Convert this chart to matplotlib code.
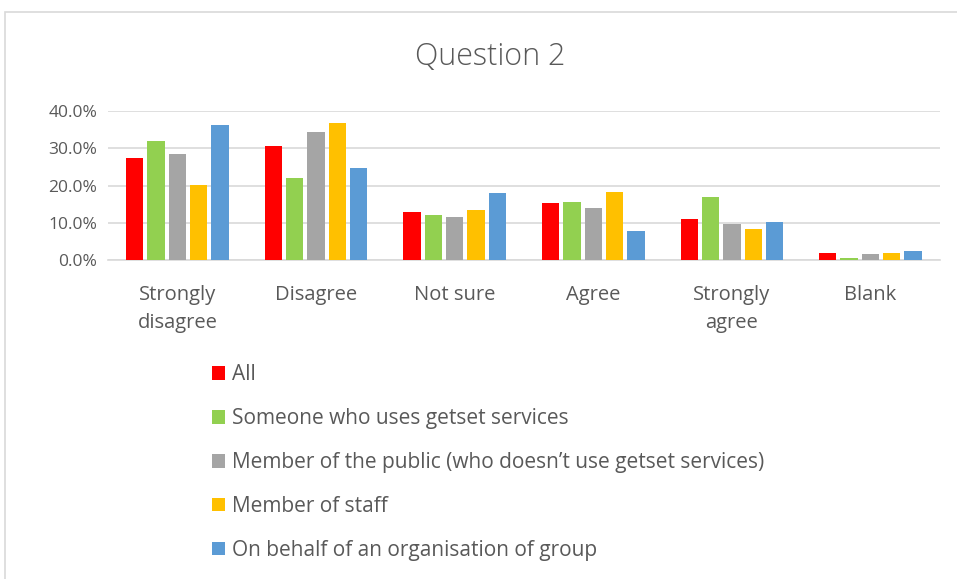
import matplotlib.pyplot as plt
import numpy as np
from matplotlib.patches import Rectangle
from matplotlib.ticker import PercentFormatter

plt.rcParams['font.family'] = ['Open Sans', 'DejaVu Sans']

categories = ['Strongly\ndisagree', 'Disagree', 'Not sure', 'Agree', 'Strongly\nagree', 'Blank']
series_names = ['All', 'Someone who uses getset services',
                'Member of the public (who doesn\u2019t use getset services)',
                'Member of staff', 'On behalf of an organisation of group']
all_resp = [27.4, 30.7, 12.8, 15.2, 11.1, 2.0]
service_users = [32.0, 22.0, 12.2, 15.7, 16.8, 0.5]
public = [28.5, 34.3, 11.5, 14.0, 9.7, 1.7]
staff = [20.2, 36.9, 13.5, 18.3, 8.4, 2.0]
organisation = [36.2, 24.6, 18.0, 7.7, 10.3, 2.4]
colors = ['#ff0000', '#92d050', '#a5a5a5', '#ffc000', '#5b9bd5']

series = [all_resp, service_users, public, staff, organisation]

fig = plt.figure(figsize=(9.57, 5.79), dpi=100)
ax = fig.add_axes([0.113, 0.551, 0.869, 0.257])

x = np.arange(len(categories))
pitch = 0.154
for i, vals in enumerate(series):
    ax.bar(x + (i - 2) * pitch, vals, width=0.125, color=colors[i],
           label=series_names[i], zorder=3)

ax.set_xlim(-0.5, 5.5)
ax.set_ylim(0, 40)
ax.set_yticks([0, 10, 20, 30, 40])
ax.yaxis.set_major_formatter(PercentFormatter(decimals=1))
ax.set_xticks(x)
ax.set_xticklabels(categories, linespacing=1.55)
ax.grid(axis='y', color='#d9d9d9', linewidth=1.2, zorder=0)
for s in ['top', 'right', 'left']:
    ax.spines[s].set_visible(False)
ax.spines['bottom'].set_color('#d9d9d9')
ax.spines['bottom'].set_linewidth(1.2)
ax.tick_params(length=0, colors='#595959')
ax.tick_params(axis='x', labelsize=14.5, pad=18)
ax.tick_params(axis='y', labelsize=12.5, pad=8)

fig.text(0.512, 0.902, 'Question 2', ha='center', va='center', fontsize=22,
         color='#595959', fontweight='light')

fig.legend(loc='upper left', bbox_to_anchor=(0.213, 0.385), frameon=False,
           fontsize=15, labelcolor='#595959', handlelength=0.6, handleheight=0.6,
           handletextpad=0.35, labelspacing=1.1, borderaxespad=0)

# chart border
fig.patches.append(Rectangle((5 / 957, -0.1), 1.1, 1.1 - 12 / 579,
                             transform=fig.transFigure, fill=False,
                             edgecolor='#d9d9d9', linewidth=1.2))

fig.savefig('out.png', dpi=100)
